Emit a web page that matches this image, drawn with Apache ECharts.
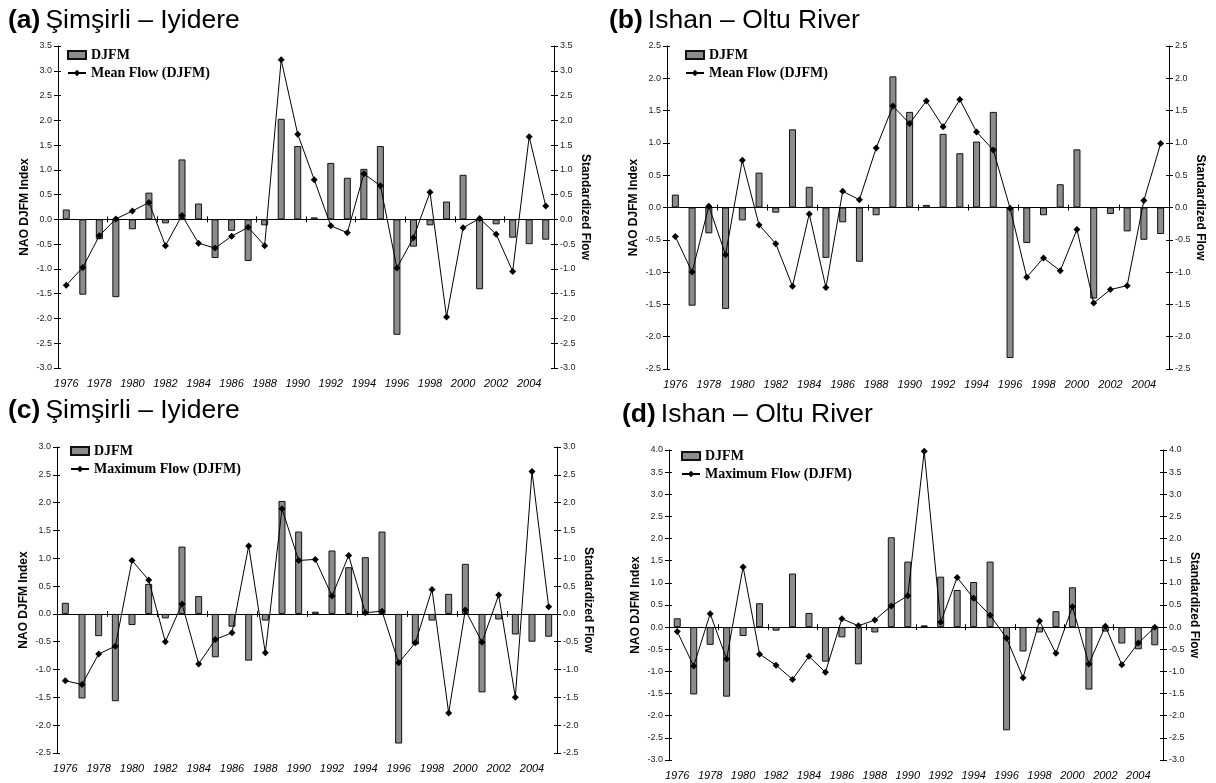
<!DOCTYPE html>
<html><head><meta charset="utf-8">
<script src="https://cdn.jsdelivr.net/npm/echarts@6/dist/echarts.min.js"></script>
<style>html,body{margin:0;padding:0;background:#fff}#c{width:1216px;height:783px}</style>
</head><body><div id="c"></div>
<script>
// ---------- data ----------
const years = ['1976','1977','1978','1979','1980','1981','1982','1983','1984','1985',
               '1986','1987','1988','1989','1990','1991','1992','1993','1994','1995',
               '1996','1997','1998','1999','2000','2001','2002','2003','2004','2005'];
const naoDJFM = [0.20,-1.52,-0.40,-1.57,-0.20,0.54,-0.08,1.21,0.32,-0.78,
                 -0.23,-0.84,-0.12,2.03,1.48,0.04,1.14,0.84,1.02,1.48,
                 -2.33,-0.55,-0.12,0.36,0.90,-1.41,-0.10,-0.37,-0.50,-0.41];
const meanFlowSimsirli = [-1.33,-0.97,-0.33,0.01,0.17,0.34,-0.53,0.08,-0.48,-0.58,
                          -0.34,-0.16,-0.53,3.22,1.72,0.80,-0.13,-0.27,0.92,0.68,
                          -0.98,-0.37,0.55,-1.97,-0.17,0.02,-0.30,-1.05,1.67,0.27];
const meanFlowIshan = [-0.45,-1.00,0.02,-0.73,0.73,-0.27,-0.56,-1.22,-0.10,-1.24,
                       0.25,0.12,0.92,1.57,1.30,1.65,1.25,1.67,1.17,0.89,
                       -0.01,-1.08,-0.78,-0.98,-0.34,-1.48,-1.27,-1.21,0.11,0.99];
const maxFlowSimsirli = [-1.20,-1.27,-0.72,-0.58,0.96,0.61,-0.50,0.18,-0.90,-0.46,
                         -0.34,1.22,-0.70,1.89,0.96,0.98,0.32,1.05,0.02,0.05,
                         -0.88,-0.52,0.44,-1.78,0.07,-0.51,0.34,-1.50,2.56,0.13];
const maxFlowIshan = [-0.10,-0.88,0.30,-0.72,1.36,-0.61,-0.86,-1.18,-0.66,-1.02,
                      0.19,0.03,0.16,0.48,0.71,3.97,0.11,1.12,0.65,0.27,
                      -0.25,-1.14,0.14,-0.59,0.46,-0.83,0.02,-0.85,-0.36,0.00];
const panelLetters = ['(a)','(b)','(c)','(d)'];
const panelStations = ['Şimşirli – Iyidere','Ishan – Oltu River','Şimşirli – Iyidere','Ishan – Oltu River'];
const barName = 'DJFM';
const flowNames = ['Mean Flow (DJFM)','Mean Flow (DJFM)','Maximum Flow (DJFM)','Maximum Flow (DJFM)'];
const flowSeries = [meanFlowSimsirli, meanFlowIshan, maxFlowSimsirli, maxFlowIshan];
const yMins = [-3,-2.5,-2.5,-3];
const yMaxs = [3.5,2.5,3,4];
const leftAxisName = 'NAO DJFM Index';
const rightAxisName = 'Standardized Flow';

// ---------- layout ----------
const grids = [
  {left:58, top:46, width:496, height:322},
  {left:667, top:46, width:502, height:323},
  {left:57, top:447, width:500, height:306},
  {left:669, top:450, width:494, height:310}
];
const titlePos = [{left:8,top:7},{left:609,top:7},{left:8,top:397},{left:622,top:401}];
const legendPos = [{left:67,top:48},{left:685,top:48},{left:70,top:444},{left:681,top:449}];

const FONT = 'Liberation Sans, Arial, sans-serif';
const option = {
  animation:false,
  backgroundColor:'#fff',
  title:[], legend:[], grid:[], xAxis:[], yAxis:[], series:[]
};
const fmt = v => v.toFixed(1);

for (let p=0;p<4;p++){
  option.grid.push(Object.assign({containLabel:false}, grids[p]));
  option.title.push(Object.assign({
    text:'{b|'+panelLetters[p]+'} {n|'+panelStations[p]+'}',
    padding:0,
    textStyle:{rich:{
      b:{fontFamily:FONT,fontWeight:'bold',fontSize:26.5,color:'#000'},
      n:{fontFamily:FONT,fontWeight:'normal',fontSize:26.5,color:'#000'}
    }}
  }, titlePos[p]));
  option.legend.push(Object.assign({
    orient:'vertical', padding:0, itemGap:4, itemWidth:18, itemHeight:8,
    data:[{name:barName, icon:'rect'}, {name:flowNames[p]}],
    textStyle:{fontFamily:'Liberation Serif, Times New Roman, serif',fontWeight:'bold',fontSize:14,color:'#000'}
  }, legendPos[p]));
  const xb = option.xAxis.length;
  // labels at bottom
  option.xAxis.push({type:'category', gridIndex:p, data:years, position:'bottom',
    axisLine:{show:false, onZero:false}, axisTick:{show:false},
    axisLabel:{interval:1, margin:10, fontFamily:FONT, fontStyle:'italic', fontSize:11, color:'#000'}});
  // zero line with downward ticks
  option.xAxis.push({type:'category', gridIndex:p, data:years, position:'bottom',
    axisLine:{show:true, onZero:true, lineStyle:{color:'#000',width:1}},
    axisTick:{show:true, length:3, lineStyle:{color:'#000'}}, axisLabel:{show:false}});
  // zero line with upward ticks
  option.xAxis.push({type:'category', gridIndex:p, data:years, position:'top',
    axisLine:{show:false, onZero:true},
    axisTick:{show:true, length:3, lineStyle:{color:'#000'}}, axisLabel:{show:false}});
  const yl = option.yAxis.length;
  const yCommon = {type:'value', gridIndex:p, min:yMins[p], max:yMaxs[p], interval:0.5,
    splitLine:{show:false},
    axisLine:{show:true, onZero:false, lineStyle:{color:'#000',width:1}},
    axisTick:{show:true, length:4, lineStyle:{color:'#000'}},
    nameLocation:'middle',
    nameTextStyle:{fontFamily:FONT,fontWeight:'bold',fontSize:12,color:'#000'},
    axisLabel:{formatter:fmt, fontFamily:FONT, fontSize:9, color:'#222', margin:6}};
  option.yAxis.push(Object.assign({}, yCommon, {position:'left', name:leftAxisName, nameGap:27, nameRotate:90}));
  option.yAxis.push(Object.assign({}, yCommon, {position:'right', name:rightAxisName, nameGap:24, nameRotate:-90}));
  // inner halves of the crossing y ticks
  const yInner = {type:'value', gridIndex:p, min:yMins[p], max:yMaxs[p], interval:0.5,
    splitLine:{show:false}, axisLabel:{show:false},
    axisLine:{show:false, onZero:false},
    axisTick:{show:true, inside:true, length:3, lineStyle:{color:'#000'}}};
  option.yAxis.push(Object.assign({}, yInner, {position:'left'}));
  option.yAxis.push(Object.assign({}, yInner, {position:'right'}));
  option.series.push({type:'bar', name:barName, xAxisIndex:xb, yAxisIndex:yl, data:naoDJFM,
    barWidth:7, itemStyle:{color:'#8c8c8c', borderColor:'#111', borderWidth:1}, z:2});
  option.series.push({type:'line', name:flowNames[p], xAxisIndex:xb, yAxisIndex:yl+1, data:flowSeries[p],
    symbol:'diamond', symbolSize:7, showSymbol:true,
    lineStyle:{color:'#000', width:1}, itemStyle:{color:'#000'}, z:3});
}
const chart = echarts.init(document.getElementById('c'), null, {renderer:'canvas'});
chart.setOption(option);
</script></body></html>
